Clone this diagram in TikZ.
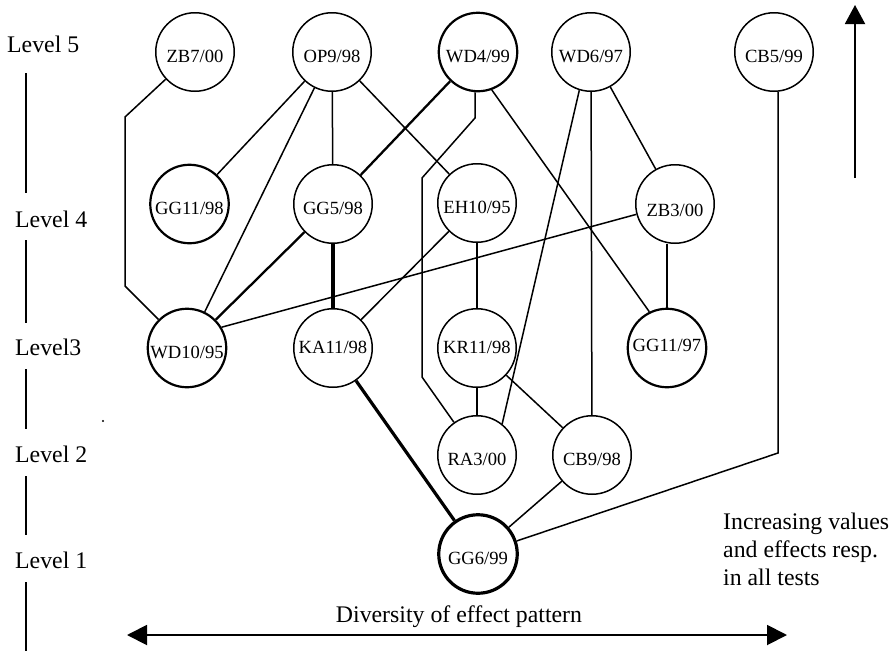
\documentclass[tikz,border=0pt]{standalone}
\usepackage{fontspec}
\setmainfont{Liberation Serif}
\usetikzlibrary{arrows.meta}
\begin{document}
\begin{tikzpicture}[x=1pt,y=-1pt,
  test/.style={circle, draw, line width=1.5pt, minimum size=78.5pt, inner sep=0pt,
    font=\fontsize{18.6}{20}\selectfont, text height=20pt, text depth=0pt},
  boldtest/.style={test, line width=2.2pt},
  heavytest/.style={test, line width=3.2pt},
  link/.style={line width=1.5pt},
  boldlink/.style={line width=2.3pt},
  heavylink/.style={line width=3.2pt},
  lvl/.style={anchor=base west, inner sep=0pt, font=\fontsize{23.8}{27.5}\selectfont},
  caption/.style={anchor=base west, inner sep=0pt, font=\fontsize{23.8}{27.5}\selectfont},
  sep/.style={line width=1.9pt},
  axis/.style={line width=1.9pt, {Triangle[length=20pt,width=20pt]}-{Triangle[length=20pt,width=20pt]}},
  upaxis/.style={line width=1.9pt, -{Triangle[length=19pt,width=20pt]}}
]
\useasboundingbox (0,0) rectangle (895,651);

% level column
\node[lvl] (l5) at (7,52) {Level 5};
\node[lvl] (l4) at (15,227) {Level 4};
\node[lvl] (l3) at (15,355) {Level3};
\node[lvl] (l2) at (15,462) {Level 2};
\node[lvl] (l1) at (15,568) {Level 1};
\draw[sep] (26,73) -- (26,193);
\draw[sep] (26,240) -- (26,323);
\draw[sep] (26,369) -- (26,429);
\draw[sep] (26,476) -- (26,535);
\draw[sep] (26,582) -- (26,651);
\fill (103,421) circle (1.1);

% level 5
\node[test] (zb700) at (195,52) {ZB7/00};
\node[test] (op998) at (332,52) {OP9/98};
\node[boldtest] (wd499) at (478,52) {WD4/99};
\node[test] (wd697) at (591,52) {WD6/97};
\node[test] (cb599) at (774,52) {CB5/99};
% level 4
\node[boldtest] (gg1198) at (189.5,204) {GG11/98};
\node[test] (gg598) at (333,204) {GG5/98};
\node[test] (eh1095) at (477,203) {EH10/95};
\node[test, text height=24.2pt] (zb300) at (675,204) {ZB3/00};
% level 3
\node[boldtest] (wd1095) at (187,348) {WD10/95};
\node[test, text height=10.2pt] (ka1198) at (333,348) {KA11/98};
\node[test, text height=10.2pt] (kr1198) at (477,348) {KR11/98};
\node[boldtest, text height=6.2pt] (gg1197) at (667,348) {GG11/97};
% level 2
\node[test] (ra300) at (477,455) {RA3/00};
\node[test] (cb998) at (592,455) {CB9/98};
% level 1
\node[heavytest] (gg699) at (478,554) {GG6/99};

% bend points
\coordinate (zbk1) at (125,117);
\coordinate (zbk2) at (125,286);
\coordinate (wdk1) at (475,118);
\coordinate (wdk2) at (422,178);
\coordinate (wdk3) at (422,377);
\coordinate (cbk) at (778,453);

% connectors
\draw[link] (zb700) -- (zbk1) -- (zbk2) -- (wd1095);
\draw[link] (op998) -- (gg1198);
\draw[link] (op998) -- (wd1095);
\draw[link] (op998) -- (gg598);
\draw[link] (op998) -- (eh1095);
\draw[boldlink] (wd499) -- (gg598);
\draw[link] (wd499.-94) -- (wdk1) -- (wdk2) -- (wdk3) -- (ra300);
\draw[link] (wd499.-70) -- (gg1197.116);
\draw[link] (wd697.-107.6) -- (ra300.51);
\draw[link] (wd697) -- (cb998);
\draw[link] (wd697) -- (zb300);
\draw[link] (cb599.south -| cbk) -- (cbk) -- (gg699);
\draw[link] (eh1095) -- (ka1198);
\draw[link] (eh1095) -- (kr1198);
\draw[link] (zb300.195) -- (wd1095.31);
\draw[link] (gg1197.north) -- (gg1197.north |- zb300.south);
\draw[boldlink] (gg598) -- (wd1095);
\draw[heavylink] (gg598) -- (ka1198);
\draw[link] (kr1198) -- (ra300);
\draw[link] (kr1198) -- (cb998);
\draw[link] (cb998) -- (gg699);
\draw[heavylink] (ka1198) -- (gg699);

% axes
\coordinate (hl) at (127,635);
\coordinate (hr) at (787,635);
\draw[axis] (hl) -- (hr);
\node[anchor=base, inner sep=0pt, font=\fontsize{23.8}{27.5}\selectfont] (div) at (459,622) {Diversity of effect pattern};
\coordinate (vb) at (855,178);
\coordinate (vt) at (855,5);
\draw[upaxis] (vb) -- (vt);
\node[caption] (inc1) at (723,529) {Increasing values};
\node[caption] (inc2) at (723,557) {and effects resp.};
\node[caption] (inc3) at (723,585) {in all tests};
\end{tikzpicture}
\end{document}
